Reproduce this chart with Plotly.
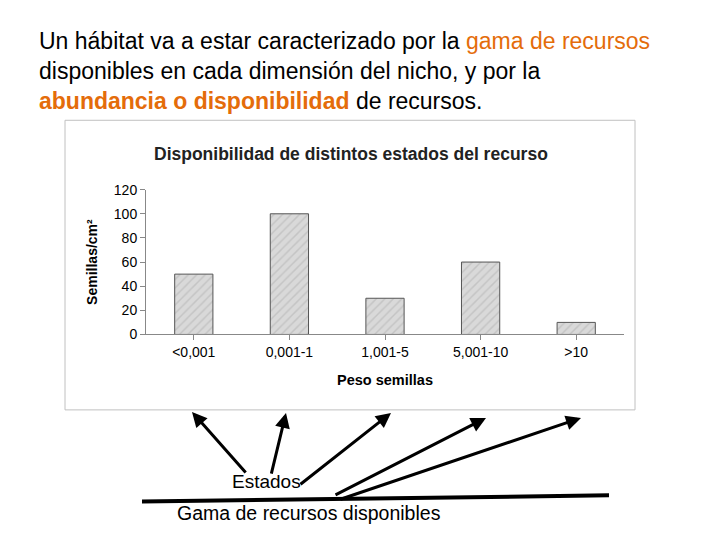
import plotly.graph_objects as go

categories = ["<0,001", "0,001-1", "1,001-5", "5,001-10", ">10"]
seeds = [50, 100, 30, 60, 10]
y_ticks = [0, 20, 40, 60, 80, 100, 120]

W, H = 720, 540


# map target pixel positions to paper coords (compensates page offset)
def px_x(x):
    return (x - 9) / W


def px_y(y):
    return 1 - ((y - 13.3) / 0.965) / H


fig = go.Figure()
fig.add_trace(go.Bar(
    x=categories, y=seeds, width=0.4,
    marker=dict(color="#d9d9d9", line=dict(color="#555555", width=1),
                pattern=dict(shape="/", fgcolor="#b0b0b0", size=6, solidity=0.25)),
))

fig.update_layout(
    width=W, height=H, margin=dict(l=0, r=0, t=0, b=0),
    paper_bgcolor="white", plot_bgcolor="white", showlegend=False,
    font=dict(family="Liberation Sans, Arial", color="black"),
    bargap=0.6,
)
fig.update_xaxes(domain=[px_x(147), px_x(625)], showline=True, linecolor="#888",
                 ticks="outside", ticklen=5, tickcolor="#888",
                 tickfont=dict(size=14), title=dict(text="<b>Peso semillas</b>", font=dict(size=14.5)))
fig.update_yaxes(domain=[px_y(330), px_y(186)], range=[0, 120], tickvals=y_ticks,
                 showline=True, linecolor="#888", showgrid=False, ticks="outside",
                 ticklen=5, tickcolor="#888", tickfont=dict(size=14),
                 title=dict(text="<b>Semillas/cm²</b>", font=dict(size=14), standoff=12))

# chart frame
fig.add_shape(type="rect", xref="paper", yref="paper",
              x0=px_x(66), x1=px_x(636), y0=px_y(405), y1=px_y(117),
              line=dict(color="#c0c0c0", width=1), layer="below")

orange = "#E46C0A"
header = [
    "Un hábitat va a estar caracterizado por la <span style='color:%s'>gama de recursos</span>" % orange,
    "disponibles en cada dimensión del nicho, y por la",
    "<b><span style='color:%s'>abundancia o disponibilidad</span></b> de recursos." % orange,
]
for i, line in enumerate(header):
    fig.add_annotation(text=line, xref="paper", yref="paper", x=px_x(38), y=px_y(38 + i * 30),
                       xanchor="left", yanchor="middle", showarrow=False,
                       font=dict(size=23, color="black"))

fig.add_annotation(text="<b>Disponibilidad de distintos estados del recurso</b>",
                   xref="paper", yref="paper", x=px_x(352), y=px_y(139),
                   showarrow=False, font=dict(size=17.5, color="#222"))

fig.add_annotation(text="Estados", xref="paper", yref="paper", x=px_x(267), y=px_y(489),
                   showarrow=False, font=dict(size=19))
fig.add_annotation(text="Gama de recursos disponibles", xref="paper", yref="paper",
                   x=px_x(310), y=px_y(520), showarrow=False, font=dict(size=19.5))

# arrows: (tail x, tail y, head x, head y) in target pixels
arrows = [(248, 467, 193, 407), (272, 468, 287, 408), (300, 478, 392, 408),
          (335, 488, 487, 413), (340, 492, 582, 413)]
for tx, ty, hx, hy in arrows:
    hxp, hyp = px_x(hx), px_y(hy)
    txp, typ = px_x(tx), px_y(ty)
    fig.add_annotation(xref="paper", yref="paper", x=hxp, y=hyp,
                       ax=(txp - hxp) * W, ay=-(typ - hyp) * H, text="", showarrow=True,
                       arrowhead=2, arrowsize=1, arrowwidth=3, arrowcolor="black")

fig.add_shape(type="line", xref="paper", yref="paper",
              x0=px_x(143), y0=px_y(496), x1=px_x(610), y1=px_y(490),
              line=dict(color="black", width=4))

fig.write_html("out.html")
